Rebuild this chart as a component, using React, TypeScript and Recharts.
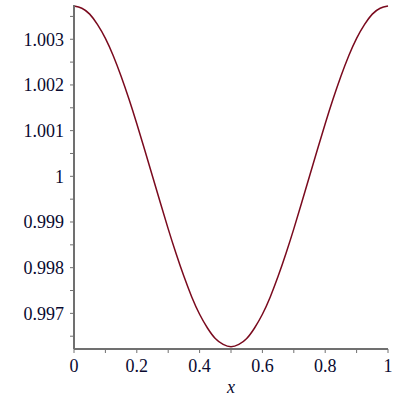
import React from 'react';
import { LineChart, Line, XAxis, YAxis, Label } from 'recharts';

// values
const xValues = [
  0, 0.025, 0.05, 0.075, 0.1, 0.125, 0.15, 0.175, 0.2, 0.225, 0.25,
  0.275, 0.3, 0.325, 0.35, 0.375, 0.4, 0.425, 0.45, 0.475, 0.5,
  0.525, 0.55, 0.575, 0.6, 0.625, 0.65, 0.675, 0.7, 0.725, 0.75,
  0.775, 0.8, 0.825, 0.85, 0.875, 0.9, 0.925, 0.95, 0.975, 1,
];
const yValues = [
  1.00373, 1.00368, 1.00355, 1.00332, 1.00302, 1.00264, 1.00219, 1.00169, 1.00115, 1.00058, 1.0,
  0.99942, 0.99885, 0.99831, 0.99781, 0.99736, 0.99698, 0.99668, 0.99645, 0.99632, 0.99627,
  0.99632, 0.99645, 0.99668, 0.99698, 0.99736, 0.99781, 0.99831, 0.99885, 0.99942, 1.0,
  1.00058, 1.00115, 1.00169, 1.00219, 1.00264, 1.00302, 1.00332, 1.00355, 1.00368, 1.00373,
];

const xTicks = [0, 0.1, 0.2, 0.3, 0.4, 0.5, 0.6, 0.7, 0.8, 0.9, 1];
const xTickLabels = ['0', '', '0.2', '', '0.4', '', '0.6', '', '0.8', '', '1'];
const yTicks = [0.9965, 0.997, 0.9975, 0.998, 0.9985, 0.999, 0.9995, 1, 1.0005, 1.001, 1.0015, 1.002, 1.0025, 1.003, 1.0035];
const yTickLabels = ['', '0.997', '', '0.998', '', '0.999', '', '1', '', '1.001', '', '1.002', '', '1.003', ''];

const data = xValues.map((x, i) => ({ x, y: yValues[i] }));

const axisColor = '#707070';
const tickFont = { fontFamily: '"Liberation Serif", serif', fontSize: 18, fill: '#0a0a30' };

const App: React.FC = () => {
  return (
    <div style={{ position: 'absolute', left: 0, top: 0, width: 400, height: 400, background: '#fff' }}>
      <LineChart width={400} height={400} data={data} margin={{ top: 5, right: 12, left: 0, bottom: 0 }}>
        <XAxis
          dataKey="x"
          type="number"
          domain={[0, 1]}
          ticks={xTicks}
          tickFormatter={(v: number) => xTickLabels[xTicks.indexOf(v)] ?? ''}
          interval={0}
          height={51}
          stroke={axisColor}
          strokeWidth={2}
          tickSize={4}
          tickMargin={6}
          tick={tickFont}
          tickLine={{ stroke: axisColor, strokeWidth: 1 }}
        >
          <Label
            value="x"
            position="insideBottom"
            offset={7}
            style={{ fontFamily: '"Liberation Serif", serif', fontStyle: 'italic', fontSize: 18, fill: '#0a0a30' }}
          />
        </XAxis>
        <YAxis
          type="number"
          domain={[0.99622, 1.00375]}
          ticks={yTicks}
          tickFormatter={(v: number) => yTickLabels[yTicks.indexOf(v)] ?? ''}
          interval={0}
          allowDataOverflow
          width={74}
          stroke={axisColor}
          strokeWidth={2}
          tickSize={4}
          tickMargin={6}
          tick={tickFont}
          tickLine={{ stroke: axisColor, strokeWidth: 1 }}
        />
        <Line
          type="natural"
          dataKey="y"
          stroke="#7a0a1e"
          strokeWidth={1.5}
          dot={false}
          isAnimationActive={false}
        />
      </LineChart>
    </div>
  );
};

export default App;
